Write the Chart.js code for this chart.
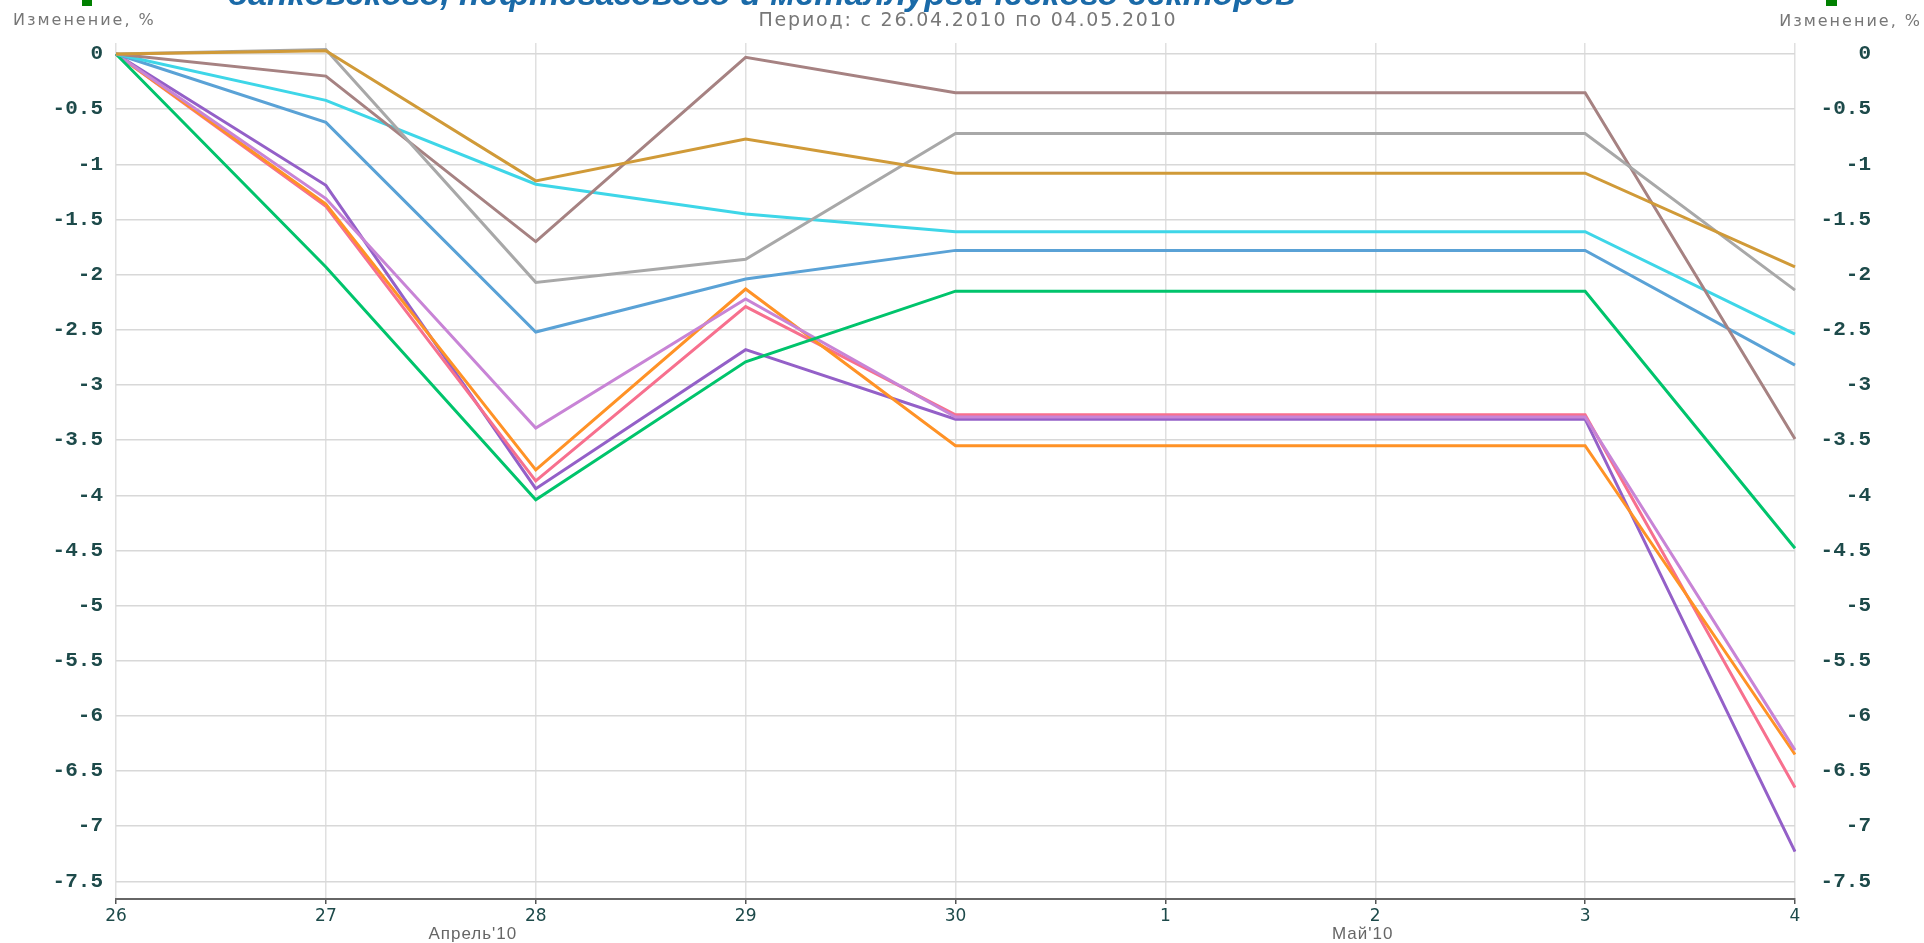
<!DOCTYPE html>
<html lang="ru">
<head>
<meta charset="utf-8">
<title>Период: с 26.04.2010 по 04.05.2010</title>
<script src="https://cdn.jsdelivr.net/npm/chart.js@4.4.1/dist/chart.umd.min.js"></script>
<style>
    html, body { margin: 0; padding: 0; background: #fff; }
    #wrap { position: relative; width: 1924px; height: 943px; }
</style>
</head>
<body>
<div id="wrap"><canvas id="sectorChart"></canvas></div>
<script>
// days on the x axis (26.04.2010 - 04.05.2010)
const days = ['26', '27', '28', '29', '30', '1', '2', '3', '4'];
const months = ["Апрель'10", "Май'10"];
const yTicks = [0, -0.5, -1, -1.5, -2, -2.5, -3, -3.5, -4, -4.5, -5, -5.5, -6, -6.5, -7, -7.5];

// change, % for each line
const lineBrown  = [0, -0.20, -1.70, -0.03, -0.35, -0.35, -0.35, -0.35, -3.49];
const lineGold   = [0, 0.03, -1.15, -0.77, -1.08, -1.08, -1.08, -1.08, -1.93];
const lineGrey   = [0, 0.04, -2.07, -1.86, -0.72, -0.72, -0.72, -0.72, -2.14];
const lineCyan   = [0, -0.42, -1.18, -1.45, -1.61, -1.61, -1.61, -1.61, -2.54];
const lineBlue   = [0, -0.62, -2.52, -2.04, -1.78, -1.78, -1.78, -1.78, -2.82];
const lineGreen  = [0, -1.93, -4.04, -2.79, -2.15, -2.15, -2.15, -2.15, -4.48];
const lineLilac  = [0, -1.31, -3.39, -2.22, -3.29, -3.29, -3.29, -3.29, -6.31];
const lineOrange = [0, -1.36, -3.77, -2.13, -3.55, -3.55, -3.55, -3.55, -6.35];
const linePink   = [0, -1.38, -3.87, -2.29, -3.27, -3.27, -3.27, -3.27, -6.65];
const linePurple = [0, -1.19, -3.94, -2.68, -3.31, -3.31, -3.31, -3.31, -7.23];

const tickColor = '#1d4a4a';

function line(data, color) {
    return {
        data: data,
        borderColor: color,
        backgroundColor: color,
        borderWidth: 3,
        pointRadius: 0,
        tension: 0,
        fill: false
    };
}

// title, subtitle, axis captions and month names
const decorations = {
    id: 'decorations',
    afterDraw(chart) {
        const ctx = chart.ctx;
        const x = chart.scales.x;
        ctx.save();

        // green markers at the top edge
        ctx.fillStyle = '#008000';
        ctx.fillRect(82, 0, 10, 6);
        ctx.fillRect(1826, 0, 11, 6);

        // title, cut by the top edge
        ctx.fillStyle = '#1a6aa8';
        ctx.font = 'italic bold 34px "Liberation Sans", Arial, sans-serif';
        ctx.textAlign = 'left';
        ctx.textBaseline = 'alphabetic';
        ctx.fillText('банковского, нефтегазового и металлургического секторов', 227, 5);

        ctx.fillStyle = '#777';
        ctx.letterSpacing = '1.8px';
        ctx.font = '19px "DejaVu Sans", sans-serif';
        ctx.textBaseline = 'middle';
        ctx.textAlign = 'center';
        ctx.fillText('Период: с 26.04.2010 по 04.05.2010', 968, 21);

        ctx.font = '16px "DejaVu Sans", sans-serif';
        ctx.letterSpacing = '2px';
        ctx.textAlign = 'left';
        ctx.fillText('Изменение, %', 13, 21);
        ctx.textAlign = 'right';
        ctx.fillText('Изменение, %', 1922, 22);

        ctx.letterSpacing = '1px';
        ctx.fillStyle = '#666';
        ctx.font = '17px "Liberation Sans", Arial, sans-serif';
        ctx.textAlign = 'center';
        ctx.fillText(months[0], x.getPixelForValue(1.70), 934);
        ctx.fillText(months[1], x.getPixelForValue(5.94), 934);
        ctx.restore();
    }
};

const ctx = document.getElementById('sectorChart').getContext('2d');
const sectorChart = new Chart(ctx, {
    type: 'line',
    data: {
        labels: days,
        datasets: [
            line(lineGold, '#d09a38'),
            line(lineGrey, '#a8a8a8'),
            line(lineBrown, '#a68282'),
            line(lineCyan, '#3ed6e8'),
            line(lineBlue, '#5aa2d6'),
            line(lineGreen, '#00c46c'),
            line(lineLilac, '#c884d6'),
            line(lineOrange, '#ff9226'),
            line(linePink, '#f7708e'),
            line(linePurple, '#9460c8')
        ]
    },
    options: {
        responsive: true,
        maintainAspectRatio: false,
        animation: false,
        layout: { padding: { top: 43, right: 53, bottom: 0, left: 0 } },
        plugins: {
            legend: { display: false },
            tooltip: { enabled: false }
        },
        scales: {
            x: {
                offset: false,
                grid: {
                    color: '#e0e0e0',
                    lineWidth: 1.5,
                    drawTicks: true,
                    tickLength: 5,
                    tickColor: '#555'
                },
                border: { display: true, color: '#666', width: 2 },
                ticks: {
                    color: tickColor,
                    padding: 2,
                    maxRotation: 0,
                    autoSkip: false,
                    font: { family: '"DejaVu Sans", sans-serif', size: 17 }
                },
                afterFit(scale) { scale.height = 44; }
            },
            y: {
                position: 'left',
                min: -7.66,
                max: 0.1,
                afterBuildTicks(scale) { scale.ticks = yTicks.map(v => ({ value: v })); },
                grid: { color: '#d8d8d8', lineWidth: 1.5, drawTicks: false },
                border: { display: false },
                ticks: {
                    color: tickColor,
                    padding: 13,
                    font: { family: '"Liberation Mono", monospace', size: 21, weight: 'bold' },
                    callback: v => String(v)
                },
                afterFit(scale) { scale.width = 116; }
            },
            y2: {
                position: 'right',
                min: -7.66,
                max: 0.1,
                afterBuildTicks(scale) { scale.ticks = yTicks.map(v => ({ value: v })); },
                grid: { display: false, drawTicks: false },
                border: { display: false },
                ticks: {
                    color: tickColor,
                    crossAlign: 'far',
                    font: { family: '"Liberation Mono", monospace', size: 21, weight: 'bold' },
                    callback: v => String(v)
                },
                afterFit(scale) { scale.width = 76; }
            }
        }
    },
    plugins: [decorations]
});
</script>
</body>
</html>
